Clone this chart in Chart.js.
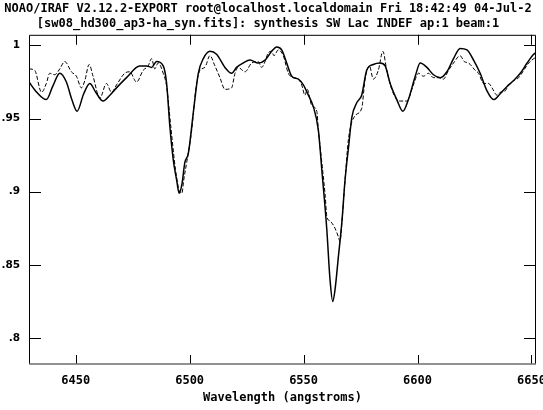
<!DOCTYPE html>
<html>
<head>
<meta charset="utf-8">
<script src="https://cdn.jsdelivr.net/npm/chart.js@4"></script>
<style>
  html, body { margin: 0; padding: 0; background: #fff; }
  #wrap { width: 543px; height: 410px; }
</style>
</head>
<body>
<div id="wrap"><canvas id="spec" width="543" height="410"></canvas></div>
<script>
// solid curve
const wavelengthSolid = [6429.5, 6432.9, 6437.1, 6439.9, 6443.0, 6445.9, 6448.3, 6450.6, 6453.5, 6456.2,
  6458.8, 6462.0, 6465.0, 6467.9, 6472.3, 6478.1, 6481.1, 6483.3, 6485.5, 6488.4,
  6489.9, 6491.3, 6492.8, 6494.3, 6495.4, 6496.6, 6497.9, 6499.4, 6501.6, 6503.8,
  6506.0, 6508.9, 6511.8, 6515.5, 6518.4, 6520.6, 6523.5, 6526.5, 6530.1, 6533.1,
  6536.0, 6538.2, 6540.4, 6542.6, 6544.8, 6547.7, 6549.9, 6552.1, 6554.3, 6556.5,
  6558.0, 6560.2, 6561.6, 6562.8, 6563.8, 6565.3, 6566.8, 6568.2, 6569.7, 6571.2,
  6573.4, 6575.5, 6577.7, 6580.6, 6583.6, 6585.8, 6588.0, 6590.9, 6593.6, 6596.0,
  6599.0, 6601.2, 6604.1, 6607.0, 6610.0, 6612.9, 6615.8, 6618.7, 6621.7, 6624.6,
  6627.5, 6630.5, 6633.4, 6636.3, 6639.3, 6642.2, 6645.1, 6648.1, 6651.0, 6652.0];
const fluxSolid = [0.975, 0.968, 0.963, 0.972, 0.981, 0.975, 0.963, 0.955, 0.967, 0.974,
  0.968, 0.962, 0.966, 0.971, 0.978, 0.986, 0.986, 0.985, 0.989, 0.986,
  0.974, 0.945, 0.922, 0.908, 0.899, 0.905, 0.920, 0.926, 0.954, 0.981,
  0.991, 0.996, 0.994, 0.985, 0.981, 0.985, 0.988, 0.990, 0.988, 0.990,
  0.996, 0.999, 0.997, 0.988, 0.979, 0.977, 0.973, 0.966, 0.958, 0.942,
  0.915, 0.874, 0.840, 0.825, 0.833, 0.856, 0.879, 0.908, 0.930, 0.951,
  0.961, 0.966, 0.983, 0.987, 0.988, 0.986, 0.974, 0.963, 0.955, 0.963,
  0.979, 0.988, 0.985, 0.980, 0.978, 0.982, 0.991, 0.998, 0.997, 0.990,
  0.981, 0.969, 0.963, 0.967, 0.972, 0.976, 0.981, 0.988, 0.994, 0.995];

// dashed curve
const wavelengthDashed = [6429.5, 6432.0, 6435.0, 6437.1, 6438.6, 6440.8, 6443.0, 6445.2, 6448.1, 6450.3,
  6452.5, 6454.0, 6455.9, 6457.6, 6460.6, 6463.5, 6465.7, 6467.9, 6471.5, 6473.7,
  6476.7, 6479.6, 6481.8, 6483.3, 6484.7, 6486.2, 6488.4, 6489.9, 6491.7, 6493.8,
  6495.6, 6496.6, 6497.4, 6498.7, 6500.9, 6502.7, 6504.5, 6506.7, 6508.9, 6511.1,
  6513.3, 6515.5, 6518.4, 6519.9, 6521.3, 6524.3, 6527.2, 6530.1, 6531.6, 6533.1,
  6534.5, 6536.0, 6537.0, 6538.9, 6541.1, 6543.3, 6545.5, 6547.7, 6549.2, 6550.6,
  6551.6, 6553.6, 6555.8, 6556.5, 6558.0, 6559.5, 6560.2, 6561.6, 6563.8, 6565.3,
  6566.0, 6566.8, 6568.2, 6569.7, 6572.6, 6575.5, 6577.0, 6578.9, 6580.6, 6582.8,
  6584.8, 6586.5, 6588.7, 6590.9, 6592.4, 6595.3, 6598.2, 6600.4, 6602.6, 6604.8,
  6607.0, 6609.2, 6611.4, 6613.6, 6615.8, 6618.7, 6620.5, 6622.4, 6625.3, 6626.8,
  6629.0, 6631.2, 6632.7, 6634.9, 6636.3, 6638.5, 6640.0, 6642.2, 6644.4, 6646.6,
  6648.8, 6651.0, 6652.0];
const fluxDashed = [0.984, 0.983, 0.968, 0.974, 0.981, 0.980, 0.984, 0.989, 0.982, 0.979,
  0.971, 0.976, 0.987, 0.979, 0.964, 0.974, 0.968, 0.973, 0.981, 0.982,
  0.975, 0.983, 0.986, 0.991, 0.984, 0.988, 0.981, 0.972, 0.945, 0.915,
  0.900, 0.899, 0.908, 0.920, 0.942, 0.970, 0.983, 0.985, 0.993, 0.986,
  0.978, 0.970, 0.971, 0.981, 0.985, 0.982, 0.988, 0.989, 0.985, 0.989,
  0.995, 0.996, 0.993, 0.997, 0.993, 0.981, 0.978, 0.977, 0.973, 0.966,
  0.970, 0.959, 0.955, 0.942, 0.920, 0.897, 0.883, 0.880, 0.875, 0.869,
  0.866, 0.879, 0.908, 0.936, 0.952, 0.957, 0.977, 0.986, 0.977, 0.983,
  0.996, 0.983, 0.970, 0.963, 0.962, 0.962, 0.973, 0.981, 0.979, 0.981,
  0.978, 0.978, 0.977, 0.983, 0.988, 0.993, 0.989, 0.988, 0.983, 0.981,
  0.974, 0.974, 0.971, 0.966, 0.968, 0.969, 0.973, 0.976, 0.978, 0.983,
  0.988, 0.991, 0.992];

const xTicks = [6450, 6500, 6550, 6600, 6650];
const yTicks = [0.8, 0.85, 0.9, 0.95, 1];
const yTickLabels = ['.8', '.85', '.9', '.95', '1'];

const titleLines = [
  'NOAO/IRAF V2.12.2-EXPORT root@localhost.localdomain Fri 18:42:49 04-Jul-2',
  '[sw08_hd300_ap3-ha_syn.fits]: synthesis SW Lac INDEF ap:1 beam:1'
];

const monoFont = '"DejaVu Sans Mono", monospace';

// box and inward tick marks, IRAF style
const framePlugin = {
  id: 'frame',
  afterDatasetsDraw(chart) {
    const ctx = chart.ctx;
    const a = chart.chartArea;
    const x = chart.scales.x, y = chart.scales.y;
    ctx.save();
    ctx.strokeStyle = '#000';
    ctx.lineWidth = 1;
    ctx.beginPath();
    ctx.moveTo(a.left + 0.5, a.bottom);
    ctx.lineTo(a.left + 0.5, a.top + 0.5);
    ctx.lineTo(a.right - 0.5, a.top + 0.5);
    ctx.lineTo(a.right - 0.5, a.bottom);
    xTicks.forEach(v => {
      const px = Math.round(x.getPixelForValue(v)) + 0.5;
      ctx.moveTo(px, a.bottom);
      ctx.lineTo(px, a.bottom - 9);
      ctx.moveTo(px, a.top);
      ctx.lineTo(px, a.top + 10);
    });
    yTicks.forEach(v => {
      const py = Math.round(y.getPixelForValue(v)) + 0.5;
      ctx.moveTo(a.left, py);
      ctx.lineTo(a.left + 12, py);
      ctx.moveTo(a.right, py);
      ctx.lineTo(a.right - 12, py);
    });
    ctx.stroke();
    // bottom axis line is greyish in the original
    ctx.strokeStyle = '#6e6e6e';
    ctx.lineWidth = 1.5;
    ctx.beginPath();
    ctx.moveTo(a.left, a.bottom);
    ctx.lineTo(a.right, a.bottom);
    ctx.stroke();
    ctx.restore();
  }
};

const ctx = document.getElementById('spec').getContext('2d');
new Chart(ctx, {
  type: 'line',
  data: {
    datasets: [{
      label: 'synthesis',
      data: wavelengthSolid.map((w, i) => ({ x: w, y: fluxSolid[i] })),
      borderColor: '#000',
      borderWidth: 1.5,
      pointRadius: 0,
      cubicInterpolationMode: 'monotone'
    }, {
      label: 'observed',
      data: wavelengthDashed.map((w, i) => ({ x: w, y: fluxDashed[i] })),
      borderColor: '#000',
      borderWidth: 1,
      borderDash: [4, 2],
      pointRadius: 0,
      cubicInterpolationMode: 'monotone'
    }]
  },
  options: {
    responsive: false,
    animation: false,
    layout: { padding: { top: 0, right: 7, left: 0, bottom: 0 } },
    plugins: {
      legend: { display: false },
      tooltip: { enabled: false },
      title: {
        display: true,
        text: titleLines,
        color: '#000',
        font: { family: monoFont, size: 12, weight: 'bold', lineHeight: 1.2 },
        padding: { top: 2, bottom: 4 }
      }
    },
    scales: {
      x: {
        type: 'linear',
        min: 6429.5,
        max: 6652,
        afterBuildTicks: s => { s.ticks = xTicks.map(v => ({ value: v })); },
        afterFit: s => { s.height = 46; s.paddingLeft = 0; s.paddingRight = 0; },
        grid: { display: false, drawTicks: false },
        border: { display: false },
        ticks: {
          color: '#000',
          padding: 10,
          maxRotation: 0,
          autoSkip: false,
          font: { family: monoFont, size: 12, weight: 'bold' },
          callback: v => String(v)
        },
        title: {
          display: true,
          text: 'Wavelength (angstroms)',
          color: '#000',
          font: { family: monoFont, size: 12, weight: 'bold' },
          padding: { top: 0, bottom: 5 }
        }
      },
      y: {
        type: 'linear',
        min: 0.7822,
        max: 1.0073,
        afterBuildTicks: s => { s.ticks = yTicks.map(v => ({ value: v })); },
        afterFit: s => { s.width = 29; },
        grid: { display: false, drawTicks: false },
        border: { display: false },
        ticks: {
          color: '#000',
          padding: 9,
          autoSkip: false,
          font: { family: '"DejaVu Sans", sans-serif', size: 10.5, weight: 'bold' },
          callback: (v, i) => yTickLabels[i]
        }
      }
    }
  },
  plugins: [framePlugin]
});
</script>
</body>
</html>
